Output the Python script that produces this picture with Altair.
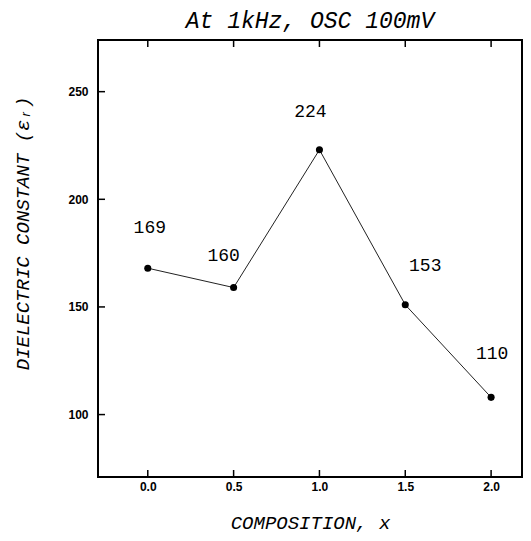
import altair as alt
import pandas as pd

composition = [0.0, 0.5, 1.0, 1.5, 2.0]
dielectric = [168, 159, 223, 151, 108]
labels = ["169", "160", "224", "153", "110"]
x_ticks = [0.0, 0.5, 1.0, 1.5, 2.0]
y_ticks = [100, 150, 200, 250]

df = pd.DataFrame({"x": composition, "y": dielectric, "label": labels})
xt = pd.DataFrame({"t": x_ticks})
yt = pd.DataFrame({"t": y_ticks})

W, H = 424, 437
TK = 7
xs = alt.Scale(domain=[-0.29, 2.18], nice=False, zero=False)
ys = alt.Scale(domain=[71, 274], nice=False, zero=False)

mono = "Liberation Mono"
sans = "Liberation Sans"

base = alt.Chart(df)

line = base.mark_line(color="#222222", strokeWidth=1).encode(
    x=alt.X("x:Q", scale=xs, axis=alt.Axis(
        orient="bottom", values=x_ticks, format=".1f", ticks=False, domain=False, grid=False,
        labelFont=sans, labelFontSize=12, labelFontWeight="bold", labelColor="black", labelPadding=4,
        title="COMPOSITION, x", titleFont=mono, titleFontStyle="italic",
        titleFontWeight="normal", titleFontSize=19, titleColor="black", titlePadding=21)),
    y=alt.Y("y:Q", scale=ys, axis=alt.Axis(
        orient="left", values=y_ticks, ticks=False, domain=False, grid=False,
        labelFont=sans, labelFontSize=12, labelFontWeight="bold", labelColor="black", labelPadding=10,
        title="DIELECTRIC CONSTANT (εᵣ)", titleFont=mono, titleFontStyle="italic",
        titleFontWeight="normal", titleFontSize=19, titleColor="black",
        titleX=-76, titleY=193, titleAlign="center", titleBaseline="middle", titleAngle=270)),
)

points = base.mark_point(filled=True, color="black", size=50, opacity=1).encode(
    x=alt.X("x:Q", scale=xs),
    y=alt.Y("y:Q", scale=ys),
)

tick_style = dict(color="black", strokeWidth=1.5)
bottom_ticks = alt.Chart(xt).mark_rule(**tick_style).encode(
    x=alt.X("t:Q", scale=xs), y=alt.value(H), y2=alt.value(H - TK))
top_ticks = alt.Chart(xt).mark_rule(**tick_style).encode(
    x=alt.X("t:Q", scale=xs), y=alt.value(0), y2=alt.value(TK))
left_ticks = alt.Chart(yt).mark_rule(**tick_style).encode(
    y=alt.Y("t:Q", scale=ys), x=alt.value(0), x2=alt.value(TK))

offsets = [(2, -40), (-10, -32), (-9, -38), (20, -39), (1, -43)]
texts = []
for lab, (dx, dy) in zip(labels, offsets):
    texts.append(
        base.transform_filter(alt.datum.label == lab).mark_text(
            font=mono, fontSize=18, color="black", dx=dx, dy=dy
        ).encode(
            x=alt.X("x:Q", scale=xs),
            y=alt.Y("y:Q", scale=ys),
            text="label:N",
        )
    )

chart = alt.layer(line, points, bottom_ticks, top_ticks, left_ticks, *texts).properties(
    width=W, height=H,
    background="white",
    autosize=alt.AutoSizeParams(type="none"),
    padding={"left": 90, "top": 32, "right": 1, "bottom": 56},
    title=alt.TitleParams(
        "At 1kHz, OSC 100mV", font=mono, fontStyle="italic", fontWeight="normal",
        fontSize=23, color="black", anchor="middle", offset=6),
).configure_view(stroke="black", strokeWidth=2)

chart.save("out.html", embed_options={"renderer": "svg", "actions": False})
